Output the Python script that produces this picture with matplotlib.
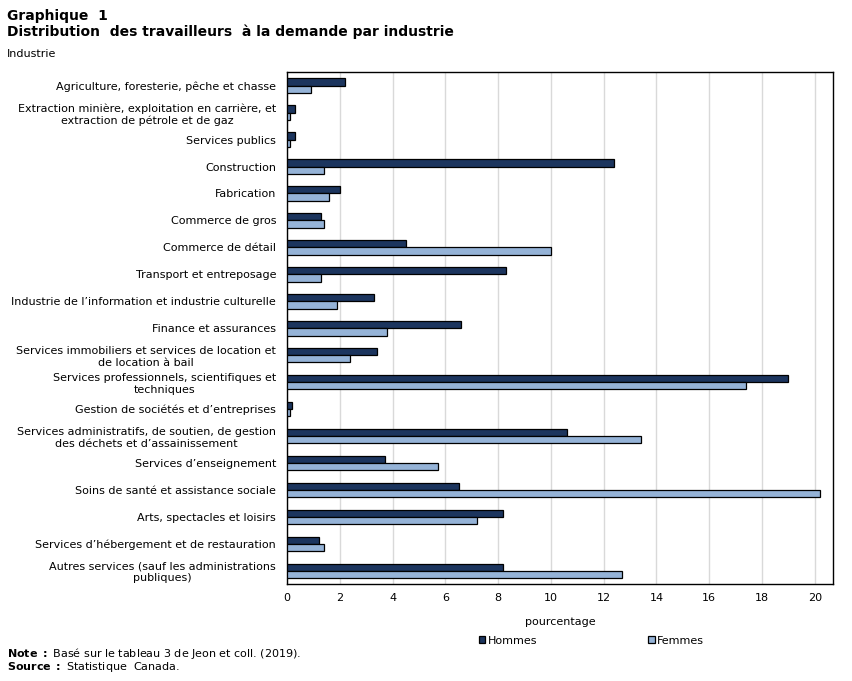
import matplotlib.pyplot as plt
import numpy as np

industries = [
    "Agriculture, foresterie, pêche et chasse",
    "Extraction minière, exploitation en carrière, et\nextraction de pétrole et de gaz",
    "Services publics",
    "Construction",
    "Fabrication",
    "Commerce de gros",
    "Commerce de détail",
    "Transport et entreposage",
    "Industrie de l’information et industrie culturelle",
    "Finance et assurances",
    "Services immobiliers et services de location et\nde location à bail",
    "Services professionnels, scientifiques et\ntechniques",
    "Gestion de sociétés et d’entreprises",
    "Services administratifs, de soutien, de gestion\ndes déchets et d’assainissement",
    "Services d’enseignement",
    "Soins de santé et assistance sociale",
    "Arts, spectacles et loisirs",
    "Services d’hébergement et de restauration",
    "Autres services (sauf les administrations\npubliques)",
]
hommes = [2.2, 0.3, 0.3, 12.4, 2.0, 1.3, 4.5, 8.3, 3.3, 6.6, 3.4, 19.0, 0.2, 10.6, 3.7, 6.5, 8.2, 1.2, 8.2]
femmes = [0.9, 0.1, 0.1, 1.4, 1.6, 1.4, 10.0, 1.3, 1.9, 3.8, 2.4, 17.4, 0.1, 13.4, 5.7, 20.2, 7.2, 1.4, 12.7]
xticks = [0, 2, 4, 6, 8, 10, 12, 14, 16, 18, 20]

fig = plt.figure(figsize=(8.52, 6.81), dpi=100)
ax = fig.add_axes([0.337, 0.142, 0.641, 0.752])

y = np.arange(len(industries))
h = 0.27
ax.barh(y - h / 2, hommes, height=h, color="#1c355e", edgecolor="black", linewidth=0.9, label="Hommes", zorder=3)
ax.barh(y + h / 2, femmes, height=h, color="#95b3d7", edgecolor="black", linewidth=0.9, label="Femmes", zorder=3)

ax.set_ylim(len(industries) - 0.5, -0.5)
ax.set_xlim(0, 20.7)
ax.set_yticks(y)
ax.set_yticklabels(industries, fontsize=8, multialignment="center")
ax.set_xticks(xticks)
ax.set_xticklabels([str(t) for t in xticks], fontsize=8)
ax.tick_params(axis="both", length=0, pad=6)
ax.tick_params(axis="y", pad=8)
ax.grid(axis="x", color="#d9d9d9", linewidth=1, zorder=0)
for s in ax.spines.values():
    s.set_linewidth(1)
ax.set_xlabel("pourcentage", fontsize=8, labelpad=10)

fig.legend(loc="center", bbox_to_anchor=(0.694, 0.059), ncol=2, columnspacing=10,
           frameon=False, fontsize=8, handlelength=0.6, handleheight=0.6, handletextpad=0.2)

fig.text(0.008, 0.976, "Graphique  1", fontsize=10, fontweight="bold", va="center")
fig.text(0.008, 0.953, "Distribution  des travailleurs  à la demande par industrie", fontsize=10, fontweight="bold", va="center")
fig.text(0.008, 0.920, "Industrie", fontsize=8, va="center")

fig.text(0.008, 0.040, r"$\bf{Note\ :}$ Basé sur le tableau 3 de Jeon et coll. (2019).", fontsize=8, va="center")
fig.text(0.008, 0.020, r"$\bf{Source\ :}$ Statistique  Canada.", fontsize=8, va="center")

fig.savefig("out.png", dpi=100)
